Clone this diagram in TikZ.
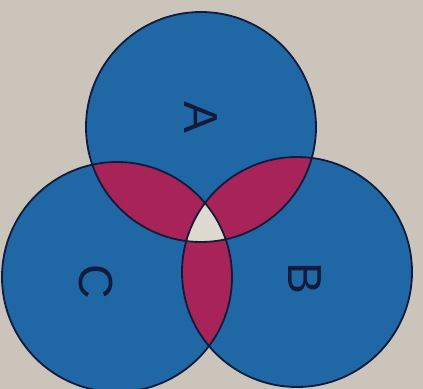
\documentclass[tikz,border=0pt]{standalone}
\usepackage{fontspec}
\setmainfont{Liberation Sans}
\usetikzlibrary{positioning}
\definecolor{setblue}{RGB}{31,104,165}
\definecolor{setpink}{RGB}{168,36,88}
\definecolor{setwhite}{RGB}{222,218,208}
\definecolor{paper}{RGB}{202,196,187}
\definecolor{rim}{RGB}{18,28,58}

\begin{document}
\begin{tikzpicture}[x=0.025cm, y=0.025cm,
    rim line/.style={draw=rim, line width=1.3pt},
    set label/.style={font=\fontsize{34}{34}\selectfont, text=rim, rotate=-90, inner sep=0pt}]
            % Paper background
            \fill[paper] (0,0) rectangle (423,389);
            \useasboundingbox (0,0) rectangle (423,389);
            
            % Centres of the three sets
            \coordinate (cA) at (201,262);
            \coordinate (cB) at (297,117);
            \coordinate (cC) at (117,112);
            
            % --- SET DISCS ---
            \fill[setblue] (cA) circle (115);
            \fill[setblue] (cB) circle (115);
            \fill[setblue] (cC) circle (115);
            
            % Pairwise overlaps
            \begin{scope}
                \clip (cA) circle (115);
                \fill[setpink] (cB) circle (115);
                \fill[setpink] (cC) circle (115);
            \end{scope}
            \begin{scope}
                \clip (cB) circle (115);
                \fill[setpink] (cC) circle (115);
            \end{scope}
            
            % Common part of all three
            \begin{scope}
                \clip (cA) circle (115);
                \clip (cB) circle (115);
                \fill[setwhite] (cC) circle (115);
            \end{scope}
            
            % Outlines
            \draw[rim line] (cA) circle (115);
            \draw[rim line] (cB) circle (115);
            \draw[rim line] (cC) circle (115);
            
            % Labels (printed sideways)
            \node[set label] (labA) at (201,272) {A};
            \node[set label] (labB) at (305,111) {B};
            \node[set label] (labC) at (96,107) {C};
            
        \end{tikzpicture}
\end{document}
